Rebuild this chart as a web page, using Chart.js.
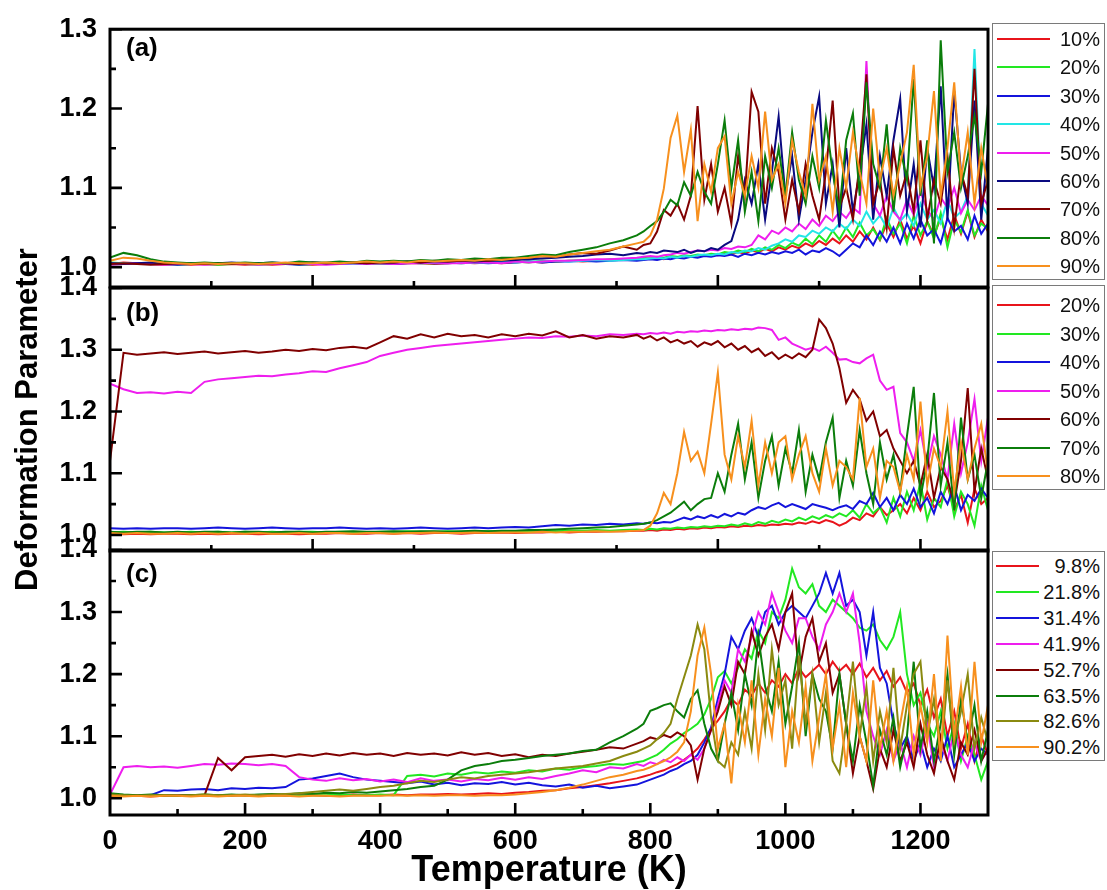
<!DOCTYPE html>
<html>
<head>
<meta charset="utf-8">
<script src="https://cdn.jsdelivr.net/npm/chart.js@4.4.1/dist/chart.umd.min.js"></script>
<style>
  html, body { margin: 0; padding: 0; background: #fff; }
  #wrap { position: relative; width: 1107px; height: 890px; overflow: hidden;
          font-family: Arial, "Liberation Sans", sans-serif; }
  #wrap canvas { position: absolute; left: 0; top: 0; }
  .tag { position: absolute; font-weight: bold; font-size: 26px; line-height: 1; color: #000; }
  .legend { position: absolute; border: 1px solid #7a7a7a; box-sizing: border-box; background: #fff; }
  .legend .sample { position: absolute; height: 2px; }
  .legend .txt { position: absolute; right: 4px; font-size: 20px; line-height: 22px; color: #111; }
</style>
</head>
<body>
<div id="wrap"></div>
<script>
// temperature grid (K)
const lowTemps = [0,20,40,60,80,100,120,140,160,180,200,220,240,260,280,300,320,340,360,380,
                  400,420,440,460,480,500,520,540,560,580,600,620,640,660,680,700,720,740,760,780];
const highTemps = [790,800,810,820,830,840,850,860,870,880,890,900,910,920,930,940,950,960,970,980,
                   990,1000,1010,1020,1030,1040,1050,1060,1070,1080,1090,1100,1110,1120,1130,1140,1150,1160,1170,1180,
                   1190,1200,1210,1220,1230,1240,1250,1260,1270,1280,1290,1300];
const temps = lowTemps.concat(highTemps);

const xTickValues = [0,200,400,600,800,1000,1200];
const yTicksA = [1.0,1.1,1.2,1.3];
const yTicksBC = [1.0,1.1,1.2,1.3,1.4];

// ---- panel (a)
const labelsA = ['10%','20%','30%','40%','50%','60%','70%','80%','90%'];
const colorsA = ['#e8141b','#22e822','#1414dc','#22e6e6','#ee1eee','#0a0a80','#800000','#0b7d0b','#f7901e'];

const a10 = [1.004,1.006,1.005,1.004,1.003,1.004,1.003,1.004,1.003,1.004,
  1.003,1.004,1.003,1.004,1.004,1.003,1.004,1.005,1.004,1.004,
  1.005,1.004,1.005,1.005,1.004,1.005,1.006,1.005,1.006,1.005,
  1.006,1.007,1.006,1.007,1.008,1.007,1.008,1.009,1.010,1.009,
  1.010,1.011,1.012,1.010,1.013,1.012,1.014,1.013,1.015,1.014,
  1.016,1.015,1.018,1.016,1.019,1.017,1.021,1.019,1.023,1.020,
  1.025,1.022,1.027,1.024,1.030,1.026,1.033,1.028,1.036,1.030,
  1.040,1.032,1.045,1.035,1.050,1.034,1.055,1.038,1.060,1.036,
  1.052,1.030,1.058,1.040,1.062,1.035,1.066,1.042,1.070,1.038,
  1.060,1.045];
const a20 = [1.006,1.005,1.004,1.005,1.004,1.003,1.004,1.004,1.003,1.004,
  1.004,1.003,1.004,1.005,1.003,1.004,1.004,1.005,1.004,1.005,
  1.004,1.005,1.006,1.005,1.005,1.006,1.005,1.006,1.007,1.006,
  1.007,1.006,1.008,1.007,1.008,1.009,1.008,1.010,1.009,1.011,
  1.012,1.011,1.013,1.012,1.014,1.013,1.015,1.014,1.016,1.015,
  1.017,1.016,1.019,1.018,1.021,1.019,1.023,1.020,1.025,1.022,
  1.028,1.024,1.031,1.027,1.036,1.029,1.040,1.032,1.046,1.035,
  1.050,1.038,1.056,1.040,1.048,1.035,1.062,1.042,1.055,1.030,
  1.065,1.040,1.058,1.036,1.068,1.025,1.060,1.044,1.072,1.040,
  1.055,1.048];
const a30 = [1.005,1.004,1.005,1.004,1.004,1.003,1.004,1.004,1.005,1.004,
  1.004,1.005,1.004,1.004,1.003,1.004,1.005,1.004,1.004,1.005,
  1.005,1.004,1.005,1.006,1.005,1.005,1.006,1.006,1.005,1.006,
  1.006,1.007,1.006,1.007,1.007,1.008,1.007,1.008,1.009,1.008,
  1.009,1.010,1.009,1.011,1.010,1.012,1.011,1.013,1.012,1.014,
  1.013,1.015,1.014,1.016,1.013,1.017,1.015,1.018,1.016,1.019,
  1.017,1.020,1.018,1.022,1.016,1.021,1.019,1.024,1.020,1.014,
  1.022,1.030,1.025,1.040,1.028,1.045,1.032,1.050,1.030,1.055,
  1.036,1.060,1.040,1.048,1.030,1.062,1.045,1.052,1.035,1.065,
  1.042,1.055];
const a40 = [1.004,1.005,1.004,1.005,1.006,1.004,1.005,1.004,1.005,1.005,
  1.004,1.004,1.005,1.004,1.005,1.004,1.004,1.005,1.004,1.005,
  1.005,1.005,1.006,1.005,1.006,1.006,1.005,1.006,1.006,1.007,
  1.006,1.007,1.007,1.008,1.007,1.008,1.009,1.008,1.009,1.010,
  1.010,1.011,1.012,1.011,1.013,1.012,1.014,1.013,1.015,1.016,
  1.015,1.017,1.016,1.019,1.018,1.021,1.020,1.024,1.022,1.027,
  1.030,1.035,1.032,1.040,1.038,1.046,1.042,1.050,1.045,1.055,
  1.048,1.060,1.052,1.070,1.055,1.065,1.050,1.075,1.058,1.068,
  1.052,1.080,1.060,1.072,1.055,1.085,1.062,1.070,1.090,1.275,
  1.080,1.065];
const a50 = [1.003,1.004,1.005,1.004,1.003,1.004,1.004,1.003,1.004,1.004,
  1.004,1.003,1.004,1.004,1.005,1.004,1.003,1.004,1.005,1.004,
  1.005,1.004,1.005,1.005,1.006,1.005,1.005,1.006,1.006,1.005,
  1.007,1.006,1.007,1.008,1.008,1.009,1.010,1.010,1.011,1.012,
  1.013,1.014,1.013,1.015,1.016,1.018,1.017,1.019,1.021,1.020,
  1.022,1.021,1.024,1.023,1.026,1.025,1.028,1.040,1.035,1.046,
  1.042,1.050,1.045,1.055,1.048,1.060,1.052,1.065,1.058,1.070,
  1.062,1.075,1.068,1.260,1.080,1.065,1.090,1.070,1.060,1.085,
  1.066,1.095,1.072,1.060,1.088,1.075,1.100,1.068,1.085,1.072,
  1.090,1.078];
const a60 = [1.005,1.004,1.005,1.006,1.004,1.005,1.005,1.004,1.005,1.006,
  1.005,1.005,1.006,1.005,1.005,1.006,1.005,1.006,1.006,1.005,
  1.006,1.006,1.007,1.006,1.007,1.007,1.008,1.007,1.008,1.008,
  1.009,1.010,1.011,1.012,1.013,1.014,1.016,1.017,1.015,1.018,
  1.017,1.019,1.018,1.021,1.020,1.019,1.022,1.018,1.021,1.020,
  1.024,1.022,1.028,1.033,1.060,1.110,1.080,1.130,1.060,1.120,
  1.190,1.090,1.140,1.060,1.110,1.170,1.215,1.080,1.130,1.050,
  1.150,1.070,1.120,1.180,1.060,1.140,1.090,1.160,1.212,1.070,
  1.130,1.050,1.150,1.100,1.228,1.060,1.222,1.120,1.080,1.210,
  1.060,1.150];
const a70 = [1.004,1.005,1.004,1.003,1.004,1.005,1.004,1.004,1.005,1.004,
  1.005,1.004,1.005,1.005,1.004,1.006,1.005,1.005,1.006,1.005,
  1.006,1.006,1.007,1.006,1.008,1.007,1.008,1.009,1.008,1.010,
  1.011,1.012,1.014,1.013,1.016,1.018,1.017,1.021,1.026,1.022,
  1.028,1.030,1.045,1.072,1.065,1.080,1.060,1.090,1.203,1.085,
  1.130,1.070,1.100,1.055,1.140,1.090,1.221,1.196,1.080,1.150,
  1.120,1.060,1.110,1.070,1.130,1.090,1.060,1.120,1.210,1.075,
  1.100,1.060,1.130,1.243,1.080,1.110,1.050,1.150,1.090,1.120,
  1.070,1.160,1.060,1.110,1.080,1.140,1.050,1.120,1.090,1.250,
  1.080,1.110];
const a80 = [1.012,1.018,1.015,1.010,1.007,1.006,1.005,1.006,1.005,1.005,
  1.006,1.005,1.006,1.005,1.007,1.006,1.006,1.007,1.006,1.008,
  1.007,1.008,1.007,1.009,1.008,1.010,1.009,1.011,1.010,1.012,
  1.012,1.014,1.016,1.015,1.019,1.022,1.025,1.030,1.034,1.040,
  1.045,1.052,1.058,1.070,1.085,1.078,1.107,1.090,1.120,1.095,
  1.080,1.130,1.185,1.100,1.160,1.070,1.120,1.058,1.140,1.100,
  1.150,1.090,1.170,1.110,1.080,1.140,1.100,1.185,1.120,1.070,
  1.160,1.194,1.090,1.233,1.130,1.100,1.180,1.070,1.150,1.110,
  1.237,1.090,1.160,1.030,1.286,1.120,1.170,1.100,1.140,1.190,
  1.120,1.206];
const a90 = [1.008,1.012,1.011,1.008,1.006,1.005,1.004,1.005,1.004,1.005,
  1.005,1.004,1.005,1.006,1.005,1.005,1.006,1.005,1.006,1.007,
  1.006,1.007,1.006,1.008,1.007,1.008,1.009,1.008,1.010,1.009,
  1.011,1.012,1.014,1.013,1.016,1.018,1.020,1.022,1.026,1.030,
  1.032,1.040,1.060,1.099,1.163,1.191,1.120,1.173,1.058,1.130,
  1.095,1.150,1.165,1.080,1.120,1.090,1.140,1.100,1.196,1.110,
  1.130,1.080,1.160,1.120,1.090,1.206,1.110,1.140,1.070,1.150,
  1.100,1.170,1.120,1.080,1.200,1.110,1.150,1.090,1.130,1.170,
  1.255,1.100,1.140,1.222,1.090,1.150,1.233,1.110,1.170,1.080,
  1.150,1.100];

// ---- panel (b)
const labelsB = ['20%','30%','40%','50%','60%','70%','80%'];
const colorsB = ['#e8141b','#22e822','#1414dc','#ee1eee','#800000','#0b7d0b','#f7901e'];

const b20 = [1.002,1.001,1.002,1.001,1.002,1.002,1.001,1.002,1.001,1.002,
  1.002,1.001,1.002,1.002,1.001,1.002,1.002,1.003,1.002,1.002,
  1.003,1.002,1.003,1.002,1.003,1.003,1.002,1.003,1.003,1.004,
  1.003,1.004,1.004,1.005,1.004,1.005,1.005,1.006,1.006,1.007,
  1.007,1.008,1.007,1.009,1.008,1.010,1.009,1.011,1.010,1.012,
  1.011,1.013,1.012,1.014,1.013,1.015,1.014,1.016,1.015,1.017,
  1.016,1.018,1.017,1.020,1.018,1.022,1.019,1.024,1.021,1.015,
  1.020,1.028,1.024,1.035,1.030,1.045,1.032,1.040,1.050,1.035,
  1.060,1.040,1.070,1.045,1.055,1.080,1.040,1.065,1.020,1.075,
  1.050,1.060];
const b30 = [1.004,1.005,1.004,1.005,1.004,1.004,1.005,1.004,1.005,1.004,
  1.005,1.004,1.005,1.004,1.005,1.005,1.004,1.005,1.005,1.004,
  1.005,1.005,1.006,1.005,1.005,1.006,1.005,1.006,1.006,1.005,
  1.006,1.006,1.007,1.006,1.007,1.007,1.008,1.007,1.008,1.009,
  1.008,1.010,1.009,1.011,1.010,1.012,1.011,1.013,1.012,1.014,
  1.013,1.015,1.014,1.017,1.015,1.019,1.016,1.021,1.018,1.023,
  1.020,1.025,1.022,1.028,1.024,1.030,1.026,1.032,1.028,1.035,
  1.030,1.040,1.028,1.050,1.035,1.045,1.020,1.060,1.030,1.070,
  1.040,1.085,1.025,1.060,1.045,1.090,1.030,1.070,1.050,1.015,
  1.080,1.040];
const b40 = [1.011,1.010,1.011,1.010,1.011,1.011,1.010,1.011,1.012,1.011,
  1.010,1.011,1.012,1.011,1.010,1.011,1.011,1.012,1.011,1.010,
  1.011,1.010,1.011,1.012,1.011,1.010,1.011,1.012,1.011,1.012,
  1.013,1.012,1.014,1.016,1.015,1.017,1.016,1.018,1.017,1.019,
  1.018,1.020,1.019,1.021,1.020,1.024,1.028,1.025,1.030,1.027,
  1.032,1.028,1.034,1.030,1.036,1.033,1.040,1.045,1.042,1.048,
  1.052,1.045,1.050,1.046,1.042,1.050,1.047,1.044,1.040,1.045,
  1.048,1.042,1.055,1.050,1.068,1.045,1.060,1.040,1.065,1.050,
  1.075,1.045,1.060,1.035,1.070,1.050,1.080,1.040,1.065,1.055,
  1.075,1.060];
const b50 = [1.245,1.236,1.230,1.231,1.229,1.232,1.230,1.248,1.252,1.254,
  1.256,1.258,1.257,1.260,1.262,1.265,1.264,1.270,1.275,1.280,
  1.290,1.295,1.300,1.303,1.306,1.308,1.310,1.312,1.314,1.316,
  1.318,1.320,1.319,1.322,1.321,1.323,1.322,1.325,1.324,1.326,
  1.325,1.327,1.326,1.328,1.326,1.329,1.328,1.330,1.329,1.331,
  1.330,1.332,1.331,1.333,1.332,1.334,1.333,1.336,1.335,1.332,
  1.316,1.320,1.310,1.305,1.300,1.303,1.298,1.305,1.295,1.284,
  1.285,1.280,1.278,1.286,1.292,1.250,1.235,1.240,1.165,1.150,
  1.120,1.170,1.110,1.160,1.130,1.090,1.180,1.100,1.150,1.220,
  1.120,1.190];
const b60 = [1.120,1.295,1.292,1.294,1.296,1.293,1.295,1.297,1.294,1.296,
  1.298,1.295,1.297,1.300,1.298,1.301,1.299,1.303,1.305,1.302,
  1.312,1.322,1.318,1.325,1.320,1.326,1.322,1.324,1.320,1.325,
  1.322,1.326,1.323,1.330,1.320,1.324,1.318,1.322,1.320,1.324,
  1.318,1.322,1.315,1.320,1.312,1.316,1.310,1.314,1.305,1.312,
  1.308,1.314,1.304,1.310,1.300,1.306,1.296,1.302,1.290,1.296,
  1.285,1.292,1.286,1.294,1.288,1.300,1.349,1.335,1.310,1.270,
  1.214,1.235,1.220,1.185,1.200,1.160,1.170,1.140,1.120,1.100,
  1.120,1.080,1.130,1.060,1.110,1.090,1.050,1.120,1.238,1.070,
  1.140,1.090];
const b70 = [1.005,1.004,1.005,1.005,1.004,1.005,1.004,1.005,1.005,1.004,
  1.005,1.005,1.004,1.005,1.005,1.004,1.005,1.005,1.006,1.005,
  1.005,1.006,1.005,1.006,1.006,1.005,1.006,1.007,1.006,1.007,
  1.007,1.008,1.008,1.009,1.010,1.011,1.012,1.013,1.015,1.017,
  1.018,1.020,1.024,1.030,1.036,1.045,1.054,1.040,1.050,1.058,
  1.060,1.100,1.070,1.130,1.180,1.090,1.150,1.060,1.120,1.160,
  1.080,1.140,1.100,1.170,1.070,1.130,1.090,1.150,1.190,1.060,
  1.120,1.080,1.170,1.100,1.050,1.150,1.090,1.130,1.070,1.160,
  1.240,1.060,1.120,1.230,1.080,1.150,1.040,1.190,1.090,1.130,
  1.060,1.120];
const b80 = [1.003,1.002,1.003,1.002,1.002,1.003,1.002,1.003,1.002,1.003,
  1.002,1.003,1.002,1.002,1.003,1.002,1.003,1.003,1.002,1.003,
  1.003,1.002,1.003,1.003,1.004,1.003,1.003,1.004,1.003,1.004,
  1.004,1.004,1.005,1.004,1.005,1.005,1.006,1.005,1.006,1.007,
  1.008,1.015,1.035,1.068,1.050,1.100,1.167,1.120,1.135,1.100,
  1.180,1.263,1.130,1.090,1.160,1.110,1.185,1.080,1.150,1.100,
  1.150,1.160,1.090,1.130,1.160,1.100,1.070,1.140,1.080,1.120,
  1.110,1.090,1.222,1.110,1.140,1.060,1.120,1.110,1.070,1.130,
  1.090,1.216,1.080,1.140,1.110,1.200,1.070,1.150,1.090,1.140,
  1.180,1.100];

// ---- panel (c)
const labelsC = ['9.8%','21.8%','31.4%','41.9%','52.7%','63.5%','82.6%','90.2%'];
const colorsC = ['#e8141b','#22e822','#1414dc','#ee1eee','#800000','#0b7d0b','#8a8a10','#f7901e'];

const c98 = [1.004,1.005,1.004,1.003,1.004,1.005,1.004,1.004,1.005,1.004,
  1.005,1.004,1.005,1.004,1.005,1.005,1.004,1.005,1.006,1.005,
  1.005,1.006,1.005,1.006,1.006,1.007,1.006,1.007,1.008,1.007,
  1.009,1.010,1.012,1.013,1.016,1.018,1.021,1.024,1.028,1.032,
  1.035,1.038,1.042,1.045,1.050,1.055,1.062,1.070,1.080,1.095,
  1.112,1.125,1.140,1.160,1.150,1.175,1.165,1.185,1.170,1.190,
  1.180,1.200,1.185,1.210,1.195,1.205,1.215,1.200,1.220,1.205,
  1.215,1.200,1.217,1.195,1.210,1.190,1.205,1.180,1.195,1.170,
  1.185,1.150,1.175,1.130,1.160,1.100,1.140,1.080,1.120,1.060,
  1.100,1.070];
const c218 = [1.005,1.004,1.005,1.004,1.005,1.004,1.004,1.005,1.004,1.005,
  1.005,1.004,1.005,1.005,1.004,1.005,1.005,1.006,1.005,1.005,
  1.006,1.005,1.036,1.038,1.035,1.040,1.038,1.042,1.040,1.043,
  1.041,1.045,1.043,1.048,1.046,1.050,1.052,1.055,1.054,1.058,
  1.060,1.065,1.070,1.078,1.088,1.095,1.105,1.112,1.120,1.135,
  1.160,1.195,1.205,1.185,1.210,1.240,1.225,1.270,1.250,1.300,
  1.290,1.320,1.370,1.340,1.330,1.345,1.310,1.300,1.320,1.310,
  1.300,1.290,1.275,1.270,1.280,1.255,1.240,1.260,1.300,1.200,
  1.150,1.170,1.120,1.100,1.140,1.080,1.120,1.060,1.100,1.070,
  1.030,1.060];
const c314 = [1.005,1.004,1.004,1.005,1.013,1.012,1.014,1.015,1.013,1.016,
  1.015,1.017,1.016,1.018,1.030,1.032,1.036,1.040,1.034,1.030,
  1.028,1.026,1.024,1.027,1.022,1.025,1.021,1.024,1.023,1.026,
  1.022,1.025,1.021,1.019,1.022,1.017,1.020,1.016,1.019,1.022,
  1.026,1.030,1.034,1.038,1.044,1.048,1.055,1.060,1.070,1.090,
  1.114,1.160,1.200,1.260,1.240,1.270,1.290,1.260,1.300,1.310,
  1.280,1.300,1.310,1.300,1.290,1.310,1.330,1.363,1.330,1.363,
  1.310,1.320,1.300,1.230,1.300,1.210,1.185,1.120,1.080,1.100,
  1.060,1.090,1.050,1.080,1.060,1.100,1.050,1.070,1.090,1.060,
  1.080,1.070];
const c419 = [1.006,1.050,1.052,1.050,1.051,1.049,1.052,1.055,1.054,1.056,
  1.055,1.053,1.055,1.052,1.034,1.030,1.028,1.032,1.029,1.031,
  1.027,1.030,1.026,1.032,1.028,1.030,1.027,1.031,1.029,1.033,
  1.030,1.034,1.031,1.036,1.040,1.045,1.042,1.050,1.048,1.055,
  1.052,1.058,1.055,1.062,1.058,1.066,1.060,1.070,1.062,1.080,
  1.110,1.150,1.190,1.170,1.240,1.220,1.260,1.300,1.280,1.330,
  1.300,1.270,1.250,1.290,1.290,1.260,1.240,1.280,1.300,1.330,
  1.300,1.330,1.250,1.140,1.100,1.070,1.110,1.060,1.090,1.050,
  1.100,1.070,1.120,1.050,1.090,1.060,1.110,1.070,1.050,1.090,
  1.060,1.080];
const c527 = [1.005,1.004,1.005,1.004,1.005,1.004,1.005,1.005,1.065,1.045,
  1.066,1.068,1.070,1.067,1.071,1.068,1.072,1.069,1.073,1.070,
  1.072,1.068,1.073,1.070,1.072,1.069,1.074,1.070,1.073,1.068,
  1.071,1.066,1.070,1.068,1.072,1.075,1.078,1.082,1.080,1.088,
  1.092,1.098,1.095,1.102,1.098,1.106,1.100,1.085,1.030,1.080,
  1.110,1.140,1.180,1.150,1.220,1.200,1.270,1.230,1.260,1.280,
  1.240,1.300,1.330,1.200,1.260,1.290,1.220,1.250,1.170,1.200,
  1.120,1.040,1.100,1.060,1.015,1.080,1.050,1.110,1.060,1.090,
  1.050,1.120,1.070,1.040,1.100,1.060,1.030,1.090,1.070,1.110,
  1.060,1.080];
const c635 = [1.008,1.006,1.005,1.006,1.005,1.004,1.005,1.006,1.005,1.006,
  1.005,1.006,1.007,1.006,1.008,1.007,1.009,1.008,1.010,1.009,
  1.011,1.013,1.015,1.018,1.020,1.030,1.045,1.052,1.055,1.060,
  1.062,1.065,1.068,1.070,1.072,1.076,1.078,1.090,1.100,1.112,
  1.120,1.141,1.145,1.150,1.153,1.140,1.130,1.160,1.174,1.120,
  1.080,1.060,1.120,1.170,1.110,1.200,1.150,1.260,1.180,1.140,
  1.220,1.120,1.180,1.250,1.100,1.200,1.160,1.140,1.080,1.200,
  1.120,1.060,1.150,1.090,1.020,1.110,1.070,1.130,1.050,1.100,
  1.220,1.080,1.140,1.060,1.120,1.200,1.070,1.160,1.090,1.150,
  1.060,1.110];
const c826 = [1.006,1.005,1.004,1.005,1.005,1.004,1.005,1.006,1.005,1.005,
  1.006,1.005,1.006,1.007,1.008,1.010,1.012,1.014,1.012,1.015,
  1.018,1.020,1.024,1.028,1.026,1.030,1.034,1.032,1.036,1.038,
  1.040,1.042,1.045,1.048,1.050,1.052,1.056,1.060,1.068,1.075,
  1.080,1.085,1.095,1.105,1.120,1.160,1.195,1.230,1.280,1.240,
  1.130,1.060,1.050,1.090,1.070,1.140,1.080,1.200,1.110,1.240,
  1.150,1.190,1.080,1.230,1.120,1.200,1.090,1.170,1.060,1.040,
  1.120,1.220,1.100,1.180,1.060,1.140,1.090,1.210,1.080,1.150,
  1.200,1.220,1.100,1.160,1.070,1.190,1.090,1.140,1.200,1.080,
  1.130,1.090];
const c902 = [1.004,1.003,1.004,1.003,1.004,1.004,1.003,1.004,1.003,1.004,
  1.004,1.003,1.004,1.004,1.003,1.004,1.004,1.003,1.004,1.004,
  1.004,1.005,1.004,1.005,1.004,1.005,1.005,1.004,1.005,1.005,
  1.006,1.008,1.010,1.013,1.017,1.022,1.028,1.034,1.038,1.044,
  1.046,1.050,1.055,1.060,1.066,1.075,1.090,1.140,1.230,1.275,
  1.200,1.080,1.120,1.024,1.150,1.090,1.190,1.070,1.160,1.100,
  1.210,1.050,1.140,1.090,1.180,1.060,1.130,1.200,1.080,1.150,
  1.050,1.170,1.100,1.060,1.190,1.080,1.140,1.060,1.120,1.180,
  1.070,1.150,1.090,1.200,1.060,1.262,1.100,1.180,1.070,1.220,
  1.090,1.150];

const FONT = 'Arial, "Liberation Sans", sans-serif';
Chart.defaults.font.family = FONT;

const panels = [
  { tag: '(a)', tagTop: 34, labels: labelsA, colors: colorsA,
    series: [a10, a20, a30, a40, a50, a60, a70, a80, a90],
    yMin: 0.975, yMax: 1.3, yTicks: yTicksA, top: 24, bottom: 287,
    xMajor: 300, xMinor: 150, showX: false, yTitle: false,
    legend: { top: 23, height: 257, first: 38, step: 28.4, x0: 996, x1: 1049 } },
  { tag: '(b)', tagTop: 299, labels: labelsB, colors: colorsB,
    series: [b20, b30, b40, b50, b60, b70, b80],
    yMin: 0.974, yMax: 1.4, yTicks: yTicksBC, top: 288, bottom: 551,
    xMajor: 300, xMinor: 150, showX: false, yTitle: true,
    legend: { top: 285, height: 205, first: 304, step: 28.5, x0: 996, x1: 1049 } },
  { tag: '(c)', tagTop: 560, labels: labelsC, colors: colorsC,
    series: [c98, c218, c314, c419, c527, c635, c826, c902],
    yMin: 0.973, yMax: 1.4, yTicks: yTicksBC, top: 550, bottom: 815,
    xMajor: 200, xMinor: 100, showX: true, yTitle: false,
    legend: { top: 551, height: 210, first: 565, step: 25.9, x0: 995, x1: 1038 } }
];

// plot frame with inward ticks, drawn over the curves
const framePlugin = {
  id: 'frame',
  afterDraw(chart, args, opts) {
    const { ctx, chartArea: a, scales: { x, y } } = chart;
    ctx.save();
    ctx.strokeStyle = '#000';
    ctx.lineWidth = 2.6;
    ctx.beginPath();
    opts.yTicks.forEach(v => {
      const py = y.getPixelForValue(v);
      ctx.moveTo(a.left, py); ctx.lineTo(a.left + 12, py);
      const m = v + 0.05;
      if (m < opts.yMax - 0.001) {
        const pm = y.getPixelForValue(m);
        ctx.moveTo(a.left, pm); ctx.lineTo(a.left + 6, pm);
      }
    });
    for (let t = opts.xMinor; t < 1300; t += opts.xMinor) {
      const px = x.getPixelForValue(t);
      const len = t % opts.xMajor === 0 ? 12 : 6;
      ctx.moveTo(px, a.bottom); ctx.lineTo(px, a.bottom - len);
    }
    ctx.stroke();
    ctx.lineWidth = 3;
    ctx.strokeRect(a.left, a.top, a.right - a.left, a.bottom - a.top);
    ctx.restore();
  }
};

const wrap = document.getElementById('wrap');

function buildPanel(p) {
  const canvas = document.createElement('canvas');
  canvas.width = 1107;
  canvas.height = 890;
  wrap.appendChild(canvas);

  const n = p.series.length;
  const datasets = p.series.map((vals, i) => ({
    label: p.labels[i],
    data: temps.map((t, k) => ({ x: t, y: vals[k] })),
    borderColor: p.colors[i],
    backgroundColor: p.colors[i],
    borderWidth: 2,
    pointRadius: 0,
    tension: 0,
    fill: false,
    order: n - i   // later series on top
  }));

  new Chart(canvas, {
    type: 'line',
    data: { datasets },
    plugins: [framePlugin],
    options: {
      responsive: false,
      animation: false,
      devicePixelRatio: 1,
      events: [],
      layout: { padding: { left: 10, right: 119, top: p.top, bottom: p.showX ? 0 : 890 - p.bottom } },
      plugins: {
        legend: { display: false },
        tooltip: { enabled: false },
        frame: { yTicks: p.yTicks, yMax: p.yMax, xMajor: p.xMajor, xMinor: p.xMinor }
      },
      scales: {
        x: {
          type: 'linear', min: 0, max: 1300,
          grid: { display: false, drawTicks: false },
          border: { display: false },
          afterBuildTicks: s => { s.ticks = xTickValues.map(v => ({ value: v })); },
          afterFit: s => { s.height = p.showX ? 890 - p.bottom : 0; },
          ticks: {
            display: p.showX, autoSkip: false, maxRotation: 0, padding: 10,
            color: '#000', font: { size: 27, weight: 'bold' },
            callback: v => String(v)
          },
          title: {
            display: p.showX, text: 'Temperature (K)', color: '#000',
            font: { size: 36, weight: 'bold', lineHeight: 1.0 }, padding: { top: 0, bottom: 1 }
          }
        },
        y: {
          type: 'linear', min: p.yMin, max: p.yMax,
          grid: { display: false, drawTicks: false },
          border: { display: false },
          afterBuildTicks: s => { s.ticks = p.yTicks.map(v => ({ value: v })); },
          afterFit: s => { s.width = 100; },
          ticks: {
            padding: 13, color: '#000', font: { size: 27, weight: 'bold' },
            callback: v => Number(v).toFixed(1)
          },
          title: {
            display: p.yTitle, text: 'Deformation Parameter', color: '#000',
            font: { size: 31, weight: 'bold' }, padding: 0
          }
        }
      }
    }
  });

  // panel tag
  const tag = document.createElement('div');
  tag.className = 'tag';
  tag.textContent = p.tag;
  tag.style.left = '126px';
  tag.style.top = p.tagTop + 'px';
  wrap.appendChild(tag);

  // legend box
  const L = p.legend;
  const box = document.createElement('div');
  box.className = 'legend';
  box.style.left = '992px';
  box.style.top = L.top + 'px';
  box.style.width = '113px';
  box.style.height = L.height + 'px';
  wrap.appendChild(box);
  p.labels.forEach((lab, i) => {
    const cy = L.first + i * L.step - L.top;
    const line = document.createElement('div');
    line.className = 'sample';
    line.style.background = p.colors[i];
    line.style.left = (L.x0 - 992) + 'px';
    line.style.width = (L.x1 - L.x0) + 'px';
    line.style.top = (cy - 1) + 'px';
    box.appendChild(line);
    const txt = document.createElement('div');
    txt.className = 'txt';
    txt.textContent = lab;
    txt.style.top = (cy - 11) + 'px';
    box.appendChild(txt);
  });
}

panels.forEach(buildPanel);
</script>
</body>
</html>
